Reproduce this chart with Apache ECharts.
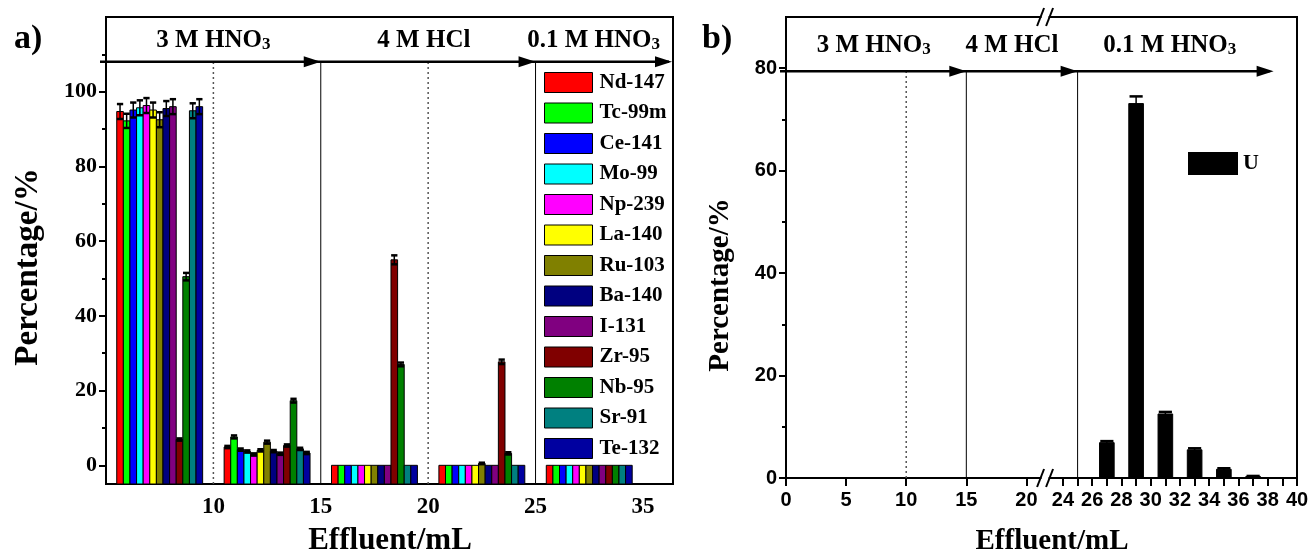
<!DOCTYPE html>
<html><head><meta charset="utf-8">
<script src="https://cdn.jsdelivr.net/npm/echarts@6/dist/echarts.min.js"></script>
<style>html,body{margin:0;padding:0;background:#fff}#c{width:1312px;height:558px}</style>
</head><body><div id="c"></div><script>
// ---------- data ----------
const nuclides = ['Nd-147','Tc-99m','Ce-141','Mo-99','Np-239','La-140','Ru-103','Ba-140','I-131','Zr-95','Nb-95','Sr-91','Te-132'];
const nuclideColors = ['#FF0000','#00FF00','#0000FF','#00FFFF','#FF00FF','#FFFF00','#808000','#000080','#800080','#800000','#008000','#008080','#0000A0'];
const effluentA = [7.5, 12.5, 17.5, 22.5, 30];           // mL, fraction centres (panel a)
const pctAt7_5  = [94.7, 92.2, 95.1, 95.7, 96.3, 95.1, 92.5, 95.5, 96.0, 6.9, 50.5, 94.9, 96.0];
const errAt7_5  = [2.0, 1.9, 2.0, 2.0, 2.0, 2.0, 2.0, 2.0, 2.0, 0.3, 1.0, 2.0, 2.0];
const pctAt12_5 = [4.9, 7.6, 4.2, 3.7, 2.9, 4.0, 6.2, 3.8, 3.1, 5.3, 17.3, 4.4, 3.3];
const errAt12_5 = [0.3, 0.4, 0.3, 0.3, 0.3, 0.3, 0.4, 0.3, 0.3, 0.3, 0.5, 0.3, 0.3];
const pctAt17_5 = [0, 0, 0, 0, 0, 0, 0, 0, 0, 55.0, 27.0, 0, 0];
const errAt17_5 = [0, 0, 0, 0, 0, 0, 0, 0, 0, 1.2, 0.5, 0, 0];
const pctAt22_5 = [0, 0, 0, 0, 0, 0, 0.5, 0, 0, 27.7, 3.2, 0, 0];
const errAt22_5 = [0, 0, 0, 0, 0, 0, 0.2, 0, 0, 0.6, 0.3, 0, 0];
const pctAt30   = [0, 0, 0, 0, 0, 0, 0, 0, 0, 0, 0, 0, 0];
const errAt30   = [0, 0, 0, 0, 0, 0, 0, 0, 0, 0, 0, 0, 0];
const groupPct = [pctAt7_5, pctAt12_5, pctAt17_5, pctAt22_5, pctAt30];
const groupErr = [errAt7_5, errAt12_5, errAt17_5, errAt22_5, errAt30];

const effluentU = [27, 29, 31, 33, 35, 37];
const pctU      = [6.9, 73.1, 12.5, 5.5, 1.7, 0.3];
const errU      = [0.3, 1.4, 0.4, 0.3, 0.2, 0.1];

const leftXTickLabels  = [10, 15, 20, 25, 35];
const leftYTickLabels  = [0, 20, 40, 60, 80, 100];
const leftYMinorTicks  = [10, 30, 50, 70, 90, 110];
const rightXTickLabels = [0, 5, 10, 15, 20, 24, 26, 28, 30, 32, 34, 36, 38, 40];
const rightXTicks      = [0, 5, 10, 15, 20, 24, 25, 26, 27, 28, 29, 30, 31, 32, 33, 34, 35, 36, 37, 38, 39, 40];
const rightYTickLabels = [0, 20, 40, 60, 80];
const rightYMinorTicks = [10, 30, 50, 70];

// ---------- broken-axis mappings ----------
const leftD  = x => x <= 25 ? x : 25 + (x - 25) / 2;
const leftInv = d => d <= 25 ? d : 25 + (d - 25) * 2;
const R_K = 1.2167, R_B = 23.04;
const rightD = x => x <= 22 ? x : R_B + (x - 24) * R_K;
const rightInv = d => d <= 22 ? d : 24 + (d - R_B) / R_K;

const Y_MIN_A = -5;
const GROUP_W = 4;
const SERIF = "'Liberation Serif','Times New Roman',serif";
const SANS = "'Liberation Sans Narrow','Liberation Sans',Arial,sans-serif";

function lbl(v, inv){ return String(Math.round(inv(v))); }

// ---------- series ----------
const series = [];
nuclides.forEach((name, k) => {
  series.push({
    type: 'custom', name, xAxisIndex: 0, yAxisIndex: 0, clip: true,
    itemStyle: { color: nuclideColors[k], borderColor: '#000', borderWidth: 1 },
    encode: { x: 0, y: 1 },
    data: effluentA.map((x, g) => [leftD(x), groupPct[g][k], groupErr[g][k]]),
    renderItem: (params, api) => {
      const d = api.value(0), v = api.value(1), e = api.value(2);
      const top = api.coord([d, v]);
      const base = api.coord([d, Y_MIN_A]);
      const gw = api.size([GROUP_W, 0])[0];
      const bw = gw / nuclides.length;
      const x0 = top[0] - gw / 2 + k * bw;
      const ch = [{ type: 'rect', shape: { x: x0, y: top[1], width: bw, height: base[1] - top[1] },
        style: { fill: nuclideColors[k], stroke: '#000', lineWidth: 1 } }];
      if (e > 0) {
        const t = api.coord([d, v + e])[1], lo = api.coord([d, v - e])[1];
        const cx = x0 + bw / 2, cw = bw * 0.95;
        ch.push({ type: 'line', shape: { x1: cx, y1: t, x2: cx, y2: lo }, style: { stroke: '#000', lineWidth: 1.5 } });
        ch.push({ type: 'line', shape: { x1: cx - cw / 2, y1: t, x2: cx + cw / 2, y2: t }, style: { stroke: '#000', lineWidth: 2.5 } });
        ch.push({ type: 'line', shape: { x1: cx - cw / 2, y1: lo, x2: cx + cw / 2, y2: lo }, style: { stroke: '#000', lineWidth: 2.5 } });
      }
      return { type: 'group', children: ch };
    }
  });
});

series.push({
  type: 'custom', name: 'U', xAxisIndex: 2, yAxisIndex: 2, clip: true,
  itemStyle: { color: '#000' },
  encode: { x: 0, y: 1 },
  data: effluentU.map((x, i) => [x, pctU[i], errU[i]]),
  renderItem: (params, api) => {
    const x = api.value(0), v = api.value(1), e = api.value(2);
    const l = api.coord([rightD(x - 0.5), v]);
    const r = api.coord([rightD(x + 0.5), 0]);
    const ch = [{ type: 'rect', shape: { x: l[0], y: l[1], width: r[0] - l[0], height: r[1] - l[1] },
      style: { fill: '#000', stroke: '#000', lineWidth: 1 } }];
    if (e > 0) {
      const cx = (l[0] + r[0]) / 2, cw = (r[0] - l[0]) * 0.9;
      const t = api.coord([rightD(x), v + e])[1], lo = api.coord([rightD(x), v - e])[1];
      ch.push({ type: 'line', shape: { x1: cx, y1: t, x2: cx, y2: lo }, style: { stroke: '#000', lineWidth: 1.5 } });
      ch.push({ type: 'line', shape: { x1: cx - cw / 2, y1: t, x2: cx + cw / 2, y2: t }, style: { stroke: '#000', lineWidth: 2.5 } });
    }
    return { type: 'group', children: ch };
  }
});

function arrowHead(tip, len, hw){
  return { type: 'polygon', shape: { points: [[tip[0], tip[1]], [tip[0] - len, tip[1] - hw], [tip[0] - len, tip[1] + hw]] },
    style: { fill: '#000' } };
}
function header(p, main, sub){
  return { type: 'text', x: p[0], y: p[1], style: {
    text: '{m|' + main + '}{s|' + sub + '}', align: 'center', verticalAlign: 'middle',
    rich: { m: { fontFamily: SERIF, fontWeight: 'bold', fontSize: 25, fill: '#000' },
            s: { fontFamily: SERIF, fontWeight: 'bold', fontSize: 17, fill: '#000', verticalAlign: 'bottom' } } } };
}
function vline(api, d, y0, y1, dashed){
  const a = api.coord([d, y0]), b = api.coord([d, y1]);
  return { type: 'line', shape: { x1: a[0], y1: a[1], x2: b[0], y2: b[1] },
    style: { stroke: dashed ? '#555' : '#000', lineWidth: dashed ? 1.5 : 1, lineDash: dashed ? [2, 3] : null } };
}

// decorations for panel a
const ARROW_A = 108, HEAD_A = 113.8;
series.push({
  type: 'custom', xAxisIndex: 0, yAxisIndex: 0, clip: false, z: 10, silent: true,
  data: [[10, 0]], encode: { x: 0, y: 1 },
  renderItem: (params, api) => {
    const ch = [];
    ch.push(vline(api, 10, Y_MIN_A, ARROW_A, true));
    ch.push(vline(api, 20, Y_MIN_A, ARROW_A, true));
    ch.push(vline(api, 15, Y_MIN_A, ARROW_A, false));
    ch.push(vline(api, 25, Y_MIN_A, ARROW_A, false));
    const s = api.coord([5, ARROW_A]), e = api.coord([31.4, ARROW_A]);
    ch.push({ type: 'line', shape: { x1: s[0] - 6, y1: s[1], x2: e[0] - 4, y2: e[1] }, style: { stroke: '#000', lineWidth: 2.5 } });
    [15, 25].forEach(d => ch.push(arrowHead(api.coord([d, ARROW_A]), 17, 5.5)));
    ch.push(arrowHead([e[0] - 1, e[1]], 17, 5.5));
    ch.push(header(api.coord([10, HEAD_A]), '3 M HNO', '3'));
    const h2 = api.coord([19.8, HEAD_A]);
    ch.push({ type: 'text', x: h2[0], y: h2[1], style: { text: '4 M HCl', align: 'center', verticalAlign: 'middle',
      font: 'bold 25px ' + SERIF, fill: '#000' } });
    ch.push(header(api.coord([27.7, HEAD_A]), '0.1 M HNO', '3'));
    return { type: 'group', children: ch };
  }
});

// decorations for panel b
const ARROW_B = 79.4, HEAD_B = 84.4;
series.push({
  type: 'custom', xAxisIndex: 2, yAxisIndex: 2, clip: false, z: 10, silent: true,
  data: [[10, 0]], encode: { x: 0, y: 1 },
  renderItem: (params, api) => {
    const ch = [];
    ch.push(vline(api, rightD(10), 0, ARROW_B, true));
    ch.push(vline(api, rightD(15), 0, ARROW_B, false));
    ch.push(vline(api, rightD(25), 0, ARROW_B, false));
    const s = api.coord([0, ARROW_B]), e = api.coord([rightD(38.4), ARROW_B]);
    ch.push({ type: 'line', shape: { x1: s[0] - 6, y1: s[1], x2: e[0] - 4, y2: e[1] }, style: { stroke: '#000', lineWidth: 2.5 } });
    [15, 25].forEach(x => ch.push(arrowHead(api.coord([rightD(x), ARROW_B]), 17, 5.5)));
    ch.push(arrowHead(e, 17, 5.5));
    ch.push(header(api.coord([rightD(7.3), HEAD_B]), '3 M HNO', '3'));
    const h2 = api.coord([rightD(18.8), HEAD_B]);
    ch.push({ type: 'text', x: h2[0], y: h2[1], style: { text: '4 M HCl', align: 'center', verticalAlign: 'middle',
      font: 'bold 25px ' + SERIF, fill: '#000' } });
    ch.push(header(api.coord([rightD(31.3), HEAD_B]), '0.1 M HNO', '3'));
    // axis break marks on bottom axis and top frame
    [0, 90].forEach(yv => {
      const c = api.coord([21.55, yv]);
      ch.push({ type: 'rect', shape: { x: c[0] - 3.5, y: c[1] - 3, width: 7, height: 6 }, style: { fill: '#fff' } });
      ch.push({ type: 'line', shape: { x1: c[0] - 8, y1: c[1] + 9, x2: c[0] - 1, y2: c[1] - 9 }, style: { stroke: '#000', lineWidth: 2 } });
      ch.push({ type: 'line', shape: { x1: c[0] + 1, y1: c[1] + 9, x2: c[0] + 8, y2: c[1] - 9 }, style: { stroke: '#000', lineWidth: 2 } });
    });
    return { type: 'group', children: ch };
  }
});

// ---------- option ----------
const axisLineStyle = { show: true, onZero: false, lineStyle: { color: '#000', width: 2 } };
const option = {
  animation: false,
  backgroundColor: '#fff',
  grid: [
    { left: 106, top: 17, width: 567, height: 467, show: true, borderColor: '#000', borderWidth: 2 },
    { left: 786, top: 17, width: 511, height: 461, show: true, borderColor: '#000', borderWidth: 2 }
  ],
  xAxis: [
    { type: 'value', gridIndex: 0, min: 5, max: 31.4, axisLine: axisLineStyle, splitLine: { show: false },
      axisTick: { show: false },
      axisLabel: { customValues: leftXTickLabels.map(leftD), formatter: v => lbl(v, leftInv), margin: 12,
        fontFamily: SERIF, fontWeight: 'bold', fontSize: 23, color: '#000' } },
    { type: 'value', gridIndex: 0, min: 5, max: 31.4, show: false },
    { type: 'value', gridIndex: 1, min: 0, max: rightD(40), axisLine: axisLineStyle, splitLine: { show: false },
      axisTick: { show: true, inside: false, length: 8, customValues: rightXTicks.map(rightD), lineStyle: { color: '#000', width: 2 } },
      axisLabel: { customValues: rightXTickLabels.map(rightD), formatter: v => lbl(v, rightInv), margin: 12,
        fontFamily: SANS, fontWeight: 'bold', fontSize: 20, color: '#000' } }
  ],
  yAxis: [
    { type: 'value', gridIndex: 0, position: 'left', min: Y_MIN_A, max: 120, axisLine: axisLineStyle, splitLine: { show: false },
      axisTick: { show: true, length: 7, customValues: leftYTickLabels, lineStyle: { color: '#000', width: 2 } },
      axisLabel: { customValues: leftYTickLabels, margin: 9, fontFamily: SERIF, fontWeight: 'bold', fontSize: 22, color: '#000' } },
    { type: 'value', gridIndex: 0, position: 'left', offset: 0, min: Y_MIN_A, max: 120, axisLine: { show: false }, splitLine: { show: false },
      axisTick: { show: true, length: 4, customValues: leftYMinorTicks, lineStyle: { color: '#000', width: 2 } },
      axisLabel: { show: false } },
    { type: 'value', gridIndex: 1, position: 'left', min: 0, max: 90, axisLine: axisLineStyle, splitLine: { show: false },
      axisTick: { show: true, length: 7, customValues: rightYTickLabels, lineStyle: { color: '#000', width: 2 } },
      axisLabel: { customValues: rightYTickLabels, margin: 9, fontFamily: SANS, fontWeight: 'bold', fontSize: 20, color: '#000' } },
    { type: 'value', gridIndex: 1, position: 'left', offset: 0, min: 0, max: 90, axisLine: { show: false }, splitLine: { show: false },
      axisTick: { show: true, length: 4, customValues: rightYMinorTicks, lineStyle: { color: '#000', width: 2 } },
      axisLabel: { show: false } }
  ],
  legend: [
    { data: nuclides, orient: 'vertical', left: 544, top: 72, padding: 0, itemWidth: 48, itemHeight: 20, itemGap: 9.5,
      icon: 'rect', itemStyle: { borderColor: '#000', borderWidth: 1 },
      textStyle: { fontFamily: SERIF, fontWeight: 'bold', fontSize: 21, lineHeight: 20, color: '#000', padding: [0, 0, 0, 2] },
      selectedMode: false },
    { data: ['U'], orient: 'vertical', left: 1188, top: 152, padding: 0, itemWidth: 50, itemHeight: 23,
      icon: 'rect', textStyle: { fontFamily: SERIF, fontWeight: 'bold', fontSize: 22, color: '#000' }, selectedMode: false }
  ],
  graphic: [
    { type: 'text', left: 14, top: 22, style: { text: 'a)', font: 'bold 34px ' + SERIF, fill: '#000' } },
    { type: 'text', left: 702, top: 22, style: { text: 'b)', font: 'bold 34px ' + SERIF, fill: '#000' } },
    { type: 'text', x: 28, y: 267, rotation: Math.PI / 2, style: { text: 'Percentage/%', font: 'bold 33px ' + SERIF, fill: '#000', align: 'center', verticalAlign: 'middle' } },
    { type: 'text', x: 721, y: 285, rotation: Math.PI / 2, style: { text: 'Percentage/%', font: 'bold 29px ' + SERIF, fill: '#000', align: 'center', verticalAlign: 'middle' } },
    { type: 'text', x: 390, y: 541, style: { text: 'Effluent/mL', font: 'bold 31px ' + SERIF, fill: '#000', align: 'center', verticalAlign: 'middle' } },
    { type: 'text', x: 1052, y: 542, style: { text: 'Effluent/mL', font: 'bold 29px ' + SERIF, fill: '#000', align: 'center', verticalAlign: 'middle' } }
  ],
  series
};
const chart = echarts.init(document.getElementById('c'), null, { renderer: 'canvas' });
chart.setOption(option);
</script></body></html>
